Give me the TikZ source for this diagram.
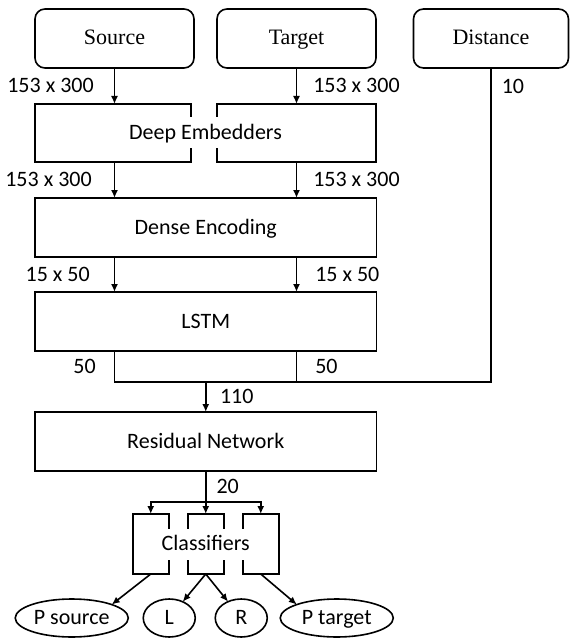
\documentclass[tikz,border=0pt]{standalone}
\usepackage{fontspec}
\newfontfamily\calibri{Carlito}
\newfontfamily\timesr{Liberation Serif}
\usepackage{tikz}
\usetikzlibrary{positioning,shapes.geometric,calc,arrows.meta}
\tikzset{
    Inode/.style = {
       shape=rectangle, rounded corners=10pt,
       draw, outer sep=0pt,
       align=center,
       minimum width = 159pt,
       minimum height = 59pt,
       text height = 17pt, text depth = 4pt,
       font=\timesr\fontsize{22}{26}\selectfont
    },
    Bnode/.style = {
       shape=rectangle,
       draw, outer sep=0pt,
       align=center,
       minimum width = 341.5pt,
       minimum height = 59pt,
       text height = 17pt, text depth = 4pt,
       font=\calibri\fontsize{22}{26}\selectfont
    },
    Hnode/.style = {
       shape=rectangle,
       draw, outer sep=0pt,
       minimum height = 58pt
    },
    Cnode/.style = {
       shape=rectangle,
       draw, outer sep=0pt,
       minimum width = 36pt,
       minimum height = 60pt
    },
    Tnode/.style = {
       fill=white, inner sep=5pt,
       text height = 17pt, text depth = 4pt,
       font=\calibri\fontsize{22}{26}\selectfont
    },
    Onode/.style = {
       shape=ellipse,
       draw, outer sep=0pt, inner sep=0pt,
       minimum height = 38pt,
       text height = 17pt, text depth = 4pt,
       font=\calibri\fontsize{22}{26}\selectfont
    },
    Lnode/.style = {
       inner sep=0pt,
       text height = 17pt, text depth = 4pt,
       font=\calibri\fontsize{22}{26}\selectfont
    }
}

\begin{document}
\begin{tikzpicture}[>={Latex[length=8pt,width=7pt]},line width=1.6pt]
   \useasboundingbox (0,0) rectangle (570pt,-639pt);
   \node[Inode] (Source) at (114.5pt,-38.5pt) {Source};
   \node[Inode] (Target) [right = 23pt of Source] {Target};
   \node[Inode, minimum width = 155pt] (Distance) [right = 37.5pt of Target] {Distance};
   \node[Hnode, minimum width = 156pt] (EmbedLeft) [below right = 36pt and 0pt of Source.south west] {};
   \node[Hnode, minimum width = 159pt] (EmbedRight) [below right = 36pt and 0pt of Target.south west] {};
   \node[Tnode] (Embedders) at ($(EmbedLeft.west)!.5!(EmbedRight.east)$) {Deep Embedders};
   \node[Bnode] (Dense) [below right = 36pt and 0pt of EmbedLeft.south west] {Dense Encoding};
   \node[Bnode] (LSTM) [below = 35pt of Dense] {LSTM};
   \node[Bnode] (Residual) [below = 61pt of LSTM] {Residual Network};
   \coordinate (Join) at ($(LSTM.south)+(0,-31pt)$);
   \coordinate (Split) at ($(Residual.south)+(0,-31pt)$);
   \node[Cnode] (ClassMid) [below = 43pt of Residual] {};
   \node[Cnode] (ClassLeft) [left = 19pt of ClassMid] {};
   \node[Cnode] (ClassRight) [right = 19pt of ClassMid] {};
   \node[Tnode] (Classifiers) at (ClassMid) {Classifiers};
   \node[Onode, minimum width = 52pt] (L) at ($(ClassMid.south)+(-36.5pt,-44pt)$) {L};
   \node[Onode, minimum width = 52pt] (R) [right = 20pt of L] {R};
   \node[Onode, minimum width = 113pt] (PSource) [left = 15pt of L] {P source};
   \node[Onode, minimum width = 113pt] (PTarget) [right = 13pt of R] {P target};
\draw[->] (Source) -- (EmbedLeft.north -| Source) node[Lnode, midway, left = 20pt] {153 x 300};
\draw[->] (Target) -- (EmbedRight) node[Lnode, midway, right = 16pt] {153 x 300};
\draw[->] (EmbedLeft.south -| Source) -- (Dense.north -| Source) node[Lnode, midway, left = 22pt] {153 x 300};
\draw[->] (EmbedRight) -- (Dense.north -| Target) node[Lnode, midway, right = 16pt] {153 x 300};
\draw[->] (Dense.south -| Source) -- (LSTM.north -| Source) node[Lnode, midway, left = 24pt] {15 x 50};
\draw[->] (Dense.south -| Target) -- (LSTM.north -| Target) node[Lnode, midway, right = 18pt] {15 x 50};
\draw (LSTM.south -| Source) |- (Join) node[Lnode, pos=.25, left = 18pt] {50};
\draw (LSTM.south -| Target) |- (Join) node[Lnode, pos=.25, right = 18pt] {50};
\draw (Distance) |- (Join) node[Lnode, pos=.03, right = 10pt] {10};
\draw[->] (Join) -- (Residual) node[Lnode, midway, right = 13.5pt] {110};
\draw (Residual) -- (Split) node[Lnode, midway, right = 10pt] {20};
\draw[->] (Split) -- (ClassMid);
\draw[->] (Split) -| (ClassLeft);
\draw[->] (Split) -| (ClassRight);
\draw[->] (ClassLeft.south) -- (PSource.north east);
\draw[->] (ClassMid.south) -- (L);
\draw[->] (ClassMid.south) -- (R);
\draw[->] (ClassRight.south) -- (PTarget.north west);
\end{tikzpicture}
\end{document}
